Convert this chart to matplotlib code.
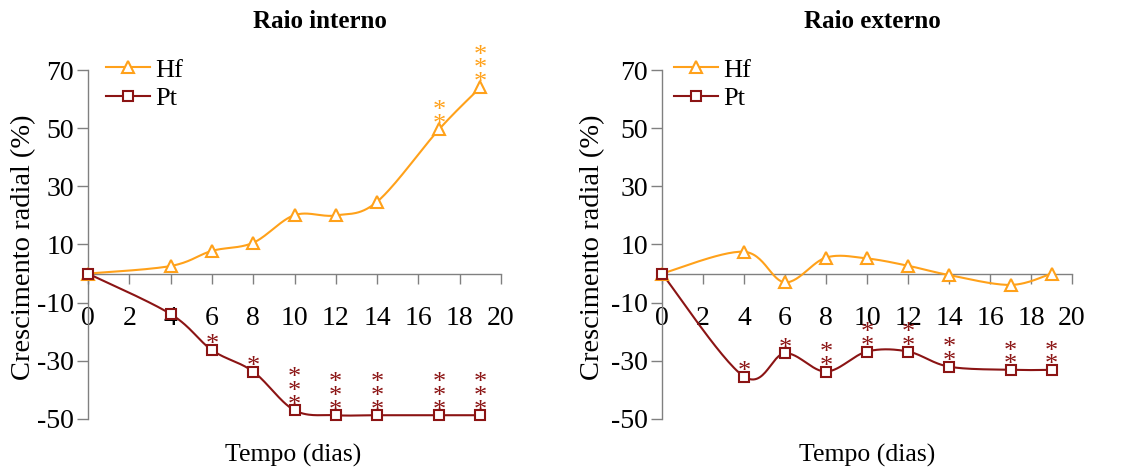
import matplotlib
matplotlib.use("Agg")
import matplotlib.pyplot as plt
import numpy as np

plt.rcParams['font.family'] = ['Liberation Serif', 'DejaVu Serif']
plt.rcParams['axes.unicode_minus'] = False

days = [0, 4, 6, 8, 10, 12, 14, 17, 19]

int_hf = [0, 2.6, 7.8, 10.6, 20.1, 20.0, 24.7, 49.6, 64.0]
int_pt = [0, -13.9, -26.3, -33.7, -47.0, -48.7, -48.7, -48.7, -48.7]
int_hf_sig = [0, 0, 0, 0, 0, 0, 0, 2, 3]
int_pt_sig = [0, 0, 1, 1, 3, 3, 3, 3, 3]

ext_hf = [0, 7.5, -3.0, 5.5, 5.2, 2.7, -0.5, -3.9, 0.0]
ext_pt = [0, -35.4, -27.4, -33.7, -26.8, -26.8, -32.0, -33.1, -33.1]
ext_hf_sig = [0, 0, 0, 0, 0, 0, 0, 0, 0]
ext_pt_sig = [0, 1, 1, 2, 2, 2, 2, 2, 2]

titles = ["Raio interno", "Raio externo"]
yticks = [-50, -30, -10, 10, 30, 50, 70]
xticks = list(range(0, 21, 2))

HF_C = '#FFA11A'
PT_C = '#8B1414'
GRAY = '#808080'


def smooth(x, y, n=30):
    x = np.asarray(x, float)
    y = np.asarray(y, float)
    m = len(x)
    xs, ys = [], []
    for i in range(m - 1):
        p0 = np.array([x[max(i - 1, 0)], y[max(i - 1, 0)]])
        p1 = np.array([x[i], y[i]])
        p2 = np.array([x[i + 1], y[i + 1]])
        p3 = np.array([x[min(i + 2, m - 1)], y[min(i + 2, m - 1)]])
        c1 = p1 + (p2 - p0) / 6.0
        c2 = p2 - (p3 - p1) / 6.0
        t = np.linspace(0, 1, n)[:, None]
        pts = ((1 - t) ** 3) * p1 + 3 * ((1 - t) ** 2) * t * c1 + 3 * (1 - t) * t ** 2 * c2 + t ** 3 * p2
        xs.extend(pts[:, 0])
        ys.extend(pts[:, 1])
    return np.array(xs), np.array(ys)


fig = plt.figure(figsize=(11.34, 4.70), dpi=100)
W, H = 1134.0, 470.0
axes_px = [(88, 501), (662, 1072)]
title_x = [320, 872]
ylab_x = [24, 593]
leg_off = [18, 12]

panels = [
    (int_hf, int_pt, int_hf_sig, int_pt_sig),
    (ext_hf, ext_pt, ext_hf_sig, ext_pt_sig),
]

for k, (hf, pt, hfs, pts) in enumerate(panels):
    x0, x1 = axes_px[k]
    ax = fig.add_axes([x0 / W, 1 - 419 / H, (x1 - x0) / W, (419 - 70) / H])
    ax.set_xlim(0, 20)
    ax.set_ylim(-50, 70)
    ax.spines['top'].set_visible(False)
    ax.spines['right'].set_visible(False)
    ax.spines['bottom'].set_position(('data', 0))
    for s in ('left', 'bottom'):
        ax.spines[s].set_color(GRAY)
        ax.spines[s].set_linewidth(1.0)
    ax.set_yticks(yticks)
    ax.set_xticks(xticks)
    ax.tick_params(axis='y', direction='out', length=8, width=1, color=GRAY,
                   labelsize=20, pad=2)
    ax.tick_params(axis='x', direction='out', length=7, width=1, color=GRAY,
                   labelsize=20, pad=16)

    for vals, sig, col, mk, ms, lab in [(hf, hfs, HF_C, '^', 9, 'Hf'),
                                       (pt, pts, PT_C, 's', 7.5, 'Pt')]:
        sx, sy = smooth(days, vals)
        ax.plot(sx, sy, color=col, lw=1.5, clip_on=False, zorder=3)
        ax.plot(days, vals, linestyle='none', marker=mk, ms=ms, mfc='white',
                mec=col, mew=1.5, clip_on=False, zorder=4)
        ax.plot([], [], color=col, lw=1.5, marker=mk, ms=ms, mfc='white',
                mec=col, mew=1.5, label=lab)
        for xd, yd, nsig in zip(days, vals, sig):
            for j in range(nsig):
                ax.annotate('*', (xd, yd), xytext=(0, -1 + 9.8 * j),
                            textcoords='offset points', ha='center',
                            va='baseline', fontsize=19, color=col,
                            annotation_clip=False, zorder=5)

    ax.legend(loc='upper left',
              bbox_to_anchor=(leg_off[k] / (x1 - x0), 1.034),
              frameon=False, fontsize=19, handlelength=1.67,
              handletextpad=0.2, labelspacing=0.2, borderpad=0,
              borderaxespad=0)
    fig.text(title_x[k] / W, 1 - 22 / H, titles[k], ha='center', va='center',
             fontsize=18, fontweight='bold')
    fig.text(ylab_x[k] / W, 1 - 247 / H, 'Crescimento radial (%)', ha='center',
             va='center', rotation=90, fontsize=20.5)
    fig.text((x0 + 205) / W, 1 - 455 / H, 'Tempo (dias)', ha='center',
             va='center', fontsize=18.5)

fig.savefig('out.png', dpi=100)
